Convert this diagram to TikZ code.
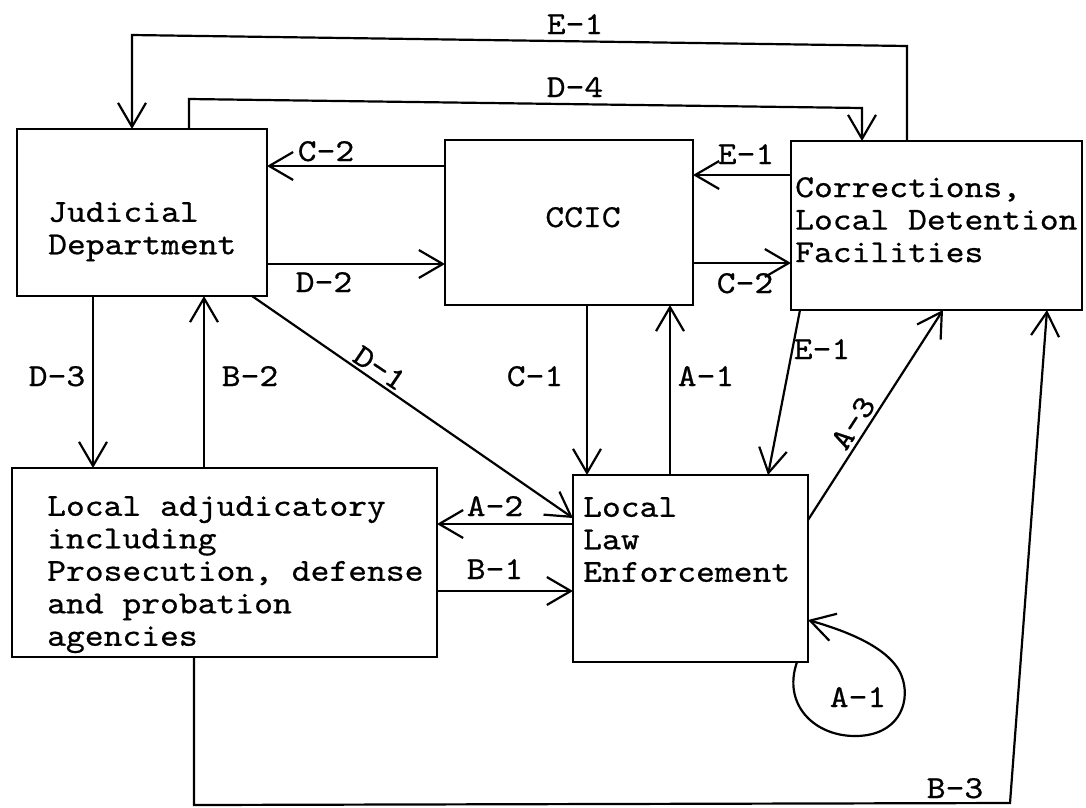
\documentclass[tikz,border=0pt]{standalone}
\usepackage{fontspec}
\newfontfamily\mono{lmmono10-regular.otf}[FakeStretch=1.12, FakeBold=0.6]
\usetikzlibrary{arrows.meta,calc}
\begin{document}
\begin{tikzpicture}[x=1pt,y=-1pt,
  box/.style={draw, line width=2.6pt, inner sep=0pt, outer sep=0pt, rectangle, anchor=north west},
  txt/.style={font=\mono\fontsize{32}{32.5}\selectfont, inner sep=0pt, align=left, anchor=north west},
  lbl/.style={font=\mono\fontsize{32}{32.5}\selectfont, inner sep=0pt, anchor=base},
  conn/.style={line width=2.2pt},
  arr/.style={conn, -{Straight Barb[length=24pt,width=28pt,line width=2.2pt]}}]
\useasboundingbox (0,0) rectangle (1086,807);
\fill[white] (0,0) rectangle (1086,807);

% boxes
\node[box, minimum width=250pt, minimum height=167pt] (jud) at (17,129) {};
\node[box, minimum width=248pt, minimum height=165pt] (ccic) at (445,140) {};
\node[box, minimum width=291pt, minimum height=169pt] (corr) at (791,141) {};
\node[box, minimum width=425pt, minimum height=189pt] (adj) at (12,468) {};
\node[box, minimum width=235pt, minimum height=187pt] (lle) at (573,475) {};

% box texts
\node[txt] (judt) at (48,202) {Judicial\\Department};
\node[lbl] (ccict) at (583,227) {CCIC};
\node[txt] (corrt) at (795,177) {Corrections,\\Local Detention\\Facilities};
\node[txt] (adjt) at (47,496) {Local adjudicatory\\including\\Prosecution, defense\\and probation\\agencies};
\node[txt] (llet) at (583,497) {Local\\Law\\Enforcement};

% named corner points
\coordinate (e1a) at (907,46);
\coordinate (e1b) at (132,35);
\coordinate (d4a) at (189,99);
\coordinate (d4b) at (862,108);
\coordinate (c2l) at (0,166);
\coordinate (d2l) at (0,264);
\coordinate (e1m) at (0,175);
\coordinate (c2m) at (0,263);
\coordinate (d3x) at (93,0);
\coordinate (b2x) at (204,0);
\coordinate (c1x) at (587,0);
\coordinate (a1x) at (670,0);
\coordinate (a2y) at (0,524);
\coordinate (b1y) at (0,591);
\coordinate (b3a) at (194,805);
\coordinate (b3b) at (1010,803);

% connectors
\draw[arr] (corr.north -| e1a) -- (e1a) -- (e1b) -- (jud.north -| e1b);
\draw[arr] (jud.north -| d4a) -- (d4a) -- (d4b) -- (corr.north -| d4b);
\draw[arr] (ccic.west |- c2l) -- (jud.east |- c2l);
\draw[arr] (jud.east |- d2l) -- (ccic.west |- d2l);
\draw[arr] (corr.west |- e1m) -- (ccic.east |- e1m);
\draw[arr] (ccic.east |- c2m) -- (corr.west |- c2m);
\draw[arr] (jud.south -| d3x) -- (adj.north -| d3x);
\draw[arr] (adj.north -| b2x) -- (jud.south -| b2x);
\draw[arr] (ccic.south -| c1x) -- (lle.north -| c1x);
\draw[arr] (lle.north -| a1x) -- (ccic.south -| a1x);
\draw[arr] ($(corr.south west)+(9,0)$) -- ($(lle.north west)+(195,0)$);
\draw[arr] ($(lle.north east)+(0,45)$) -- ($(corr.south west)+(152,0)$);
\draw[arr] (adj.south -| b3a) -- (b3a) -- (b3b) -- ($(corr.south west)+(256,0)$);
\draw[arr] (lle.west |- a2y) -- (adj.east |- a2y);
\draw[arr] (adj.east |- b1y) -- (lle.west |- b1y);
\draw[arr] ($(jud.south east)+(-15,0)$) -- ($(lle.north west)+(0,43)$);
\draw[arr] ($(lle.south east)+(-11,0)$) .. controls (782,705) and (815,737) .. (857,736)
  .. controls (897,735) and (910,705) .. (903,680)
  .. controls (895,650) and (850,632) .. ($(lle.north east)+(0,145)$);

% connector labels
\node[lbl] (le1t) at (575,34) {E-1};
\node[lbl] (ld4) at (575,97) {D-4};
\node[lbl] (lc2a) at (326,161) {C-2};
\node[lbl] (ld2) at (324,292) {D-2};
\node[lbl] (le1m) at (746,164) {E-1};
\node[lbl] (lc2b) at (745,293) {C-2};
\node[lbl] (ld3) at (57,386) {D-3};
\node[lbl] (lb2) at (250,386) {B-2};
\node[lbl] (lc1) at (535,386) {C-1};
\node[lbl] (la1) at (706,386) {A-1};
\node[lbl] (le1l) at (822,359) {E-1};
\node[lbl] (la2) at (495,516) {A-2};
\node[lbl] (lb1) at (495,579) {B-1};
\node[lbl, anchor=center, rotate=-34] (ld1) at (380,368) {D-1};
\node[lbl, anchor=center, rotate=57] (la3) at (853,423) {A-3};
\node[lbl] (la1l) at (858,707) {A-1};
\node[lbl] (lb3) at (955,798) {B-3};
\end{tikzpicture}
\end{document}
